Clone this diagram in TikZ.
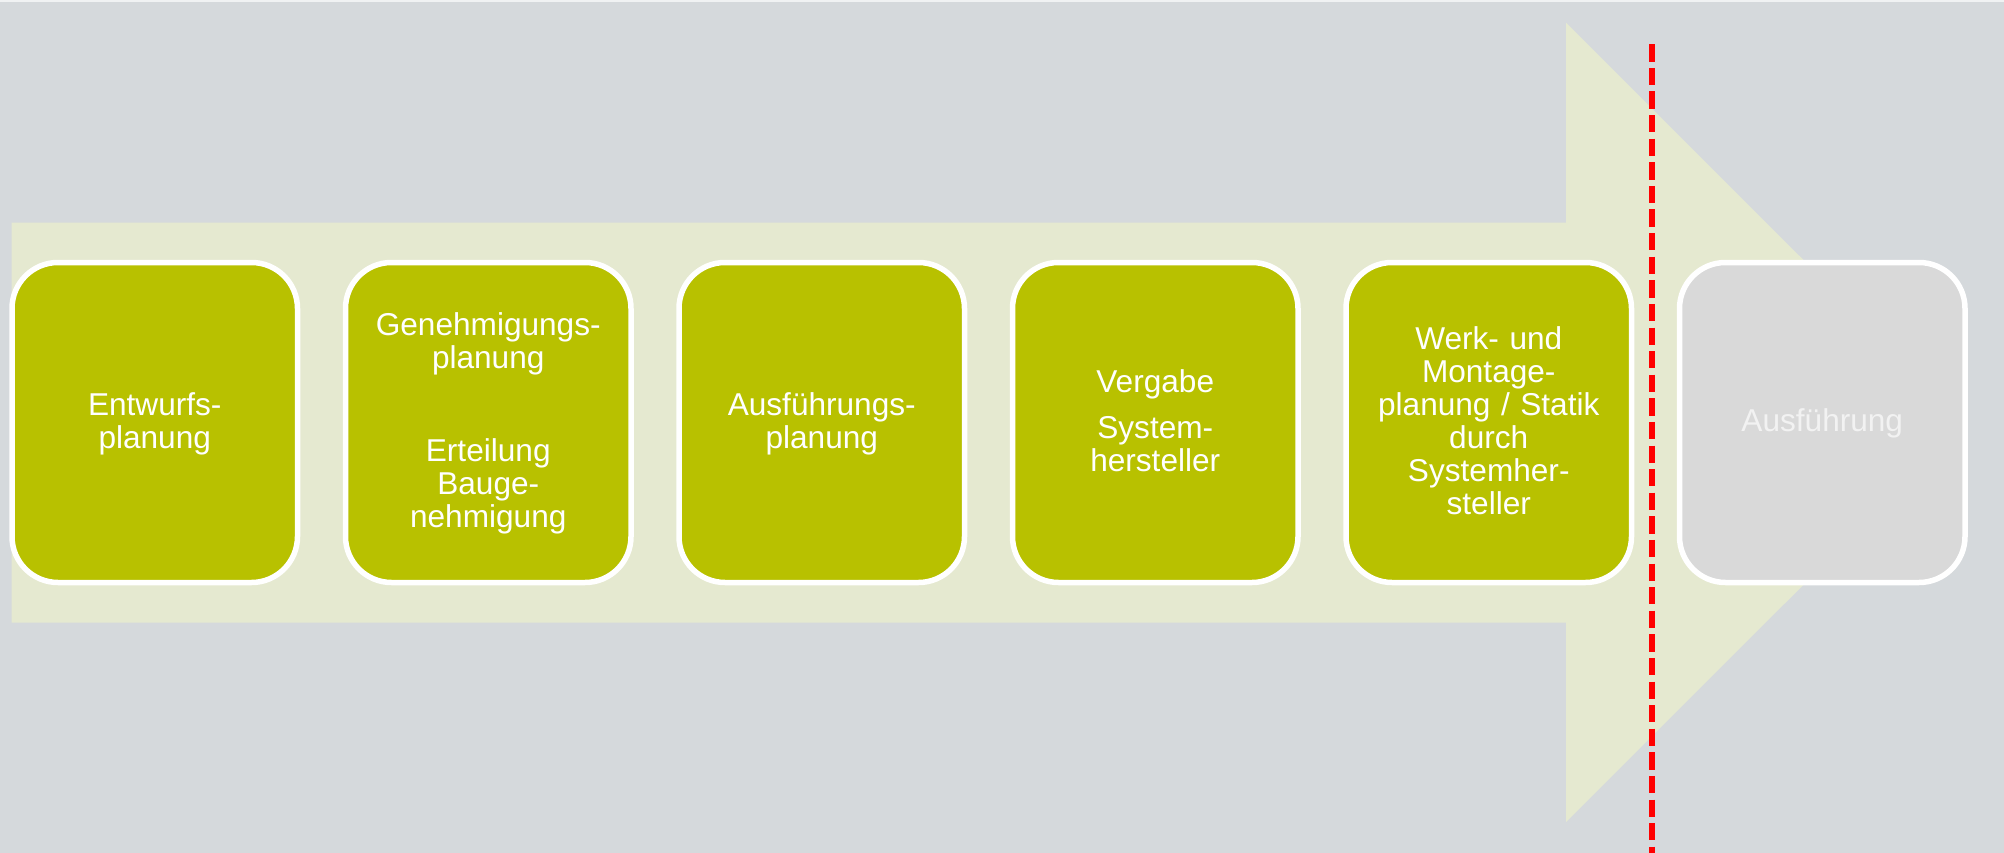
\documentclass[tikz,border=0pt]{standalone}
\usepackage{fontspec}
\setmainfont{Liberation Sans}
\definecolor{bg}{RGB}{213,217,220}
\definecolor{arrowfill}{RGB}{229,233,208}
\definecolor{stepgreen}{RGB}{184,193,0}
\definecolor{stepgray}{RGB}{217,217,217}
\definecolor{steptextgray}{RGB}{242,242,242}
\definecolor{topline}{RGB}{240,242,243}
\definecolor{cutred}{RGB}{255,0,0}
\begin{document}
\begin{tikzpicture}[x=1pt,y=-1pt,
  stepbox/.style={draw=white, line width=5.5pt, rounded corners=46pt,
    minimum width=285.5pt, minimum height=320pt, inner sep=0pt, fill=stepgreen},
  laterbox/.style={stepbox, fill=stepgray},
  steptext/.style={text=white, text width=280pt, align=center, anchor=base,
    inner sep=0pt, font=\fontsize{31.6}{33}\selectfont},
  latertext/.style={steptext, text=steptextgray},
  cutline/.style={draw=cutred, line width=6pt, dash pattern=on 17.3pt off 6.3pt}]
\useasboundingbox (0,0) rectangle (2004,853);
\fill[bg] (0,0) rectangle (2004,853);
\fill[topline] (0,0) rectangle (2004,2);
% big process arrow
\fill[arrowfill] (11.7,222.5) -- (1566,222.5) -- (1566,22.7) -- (1966,422.4)
  -- (1566,822) -- (1566,622.5) -- (11.7,622.5) -- cycle;
% boxes
\node[stepbox] (b1) at (154.75,422.5) {};
\node[stepbox] (b2) at (488.25,422.5) {};
\node[stepbox] (b3) at (821.75,422.5) {};
\node[stepbox] (b4) at (1155.25,422.5) {};
\node[stepbox] (b5) at (1488.75,422.5) {};
\node[laterbox] (b6) at (1822.25,422.5) {};
% texts
\node[steptext] (t1) at (154.75,415.7) {Entwurfs-\\planung};
\node[steptext] (t2) at (488.25,335) {Genehmigungs-\\planung\\[60pt]Erteilung\\Bauge-\\nehmigung};
\node[steptext] (t3) at (821.75,415.7) {Ausführungs-\\planung};
\node[steptext] (t4) at (1155.25,392.3) {Vergabe\\[13pt]System-\\hersteller};
\node[steptext] (t5) at (1488.75,349) {Werk- und\\Montage-\\planung / Statik\\durch\\Systemher-\\steller};
\node[latertext] (t6) at (1822.25,431.7) {Ausführung};
% red dashed cut line
\coordinate (redtop) at (1652.3,44.3);
\coordinate (redbot) at (1652.3,853);
\draw[cutline] (redtop) -- (redbot);
\end{tikzpicture}
\end{document}
